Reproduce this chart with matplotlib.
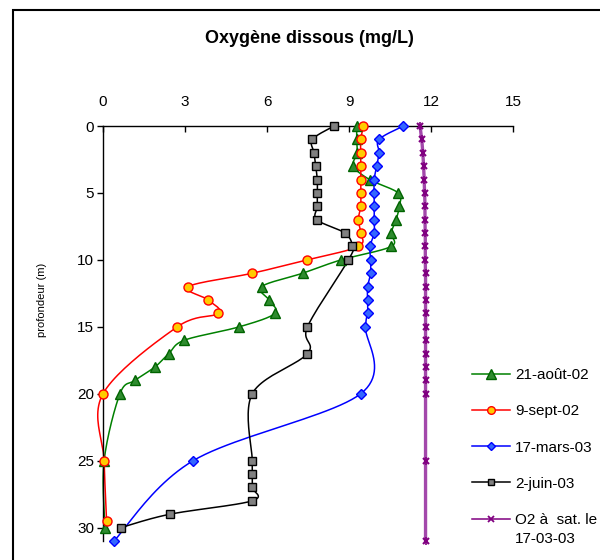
import numpy as np
import matplotlib
matplotlib.use("Agg")
import matplotlib.pyplot as plt
from matplotlib.patches import Rectangle

plt.rcParams['font.family'] = ['Liberation Sans', 'DejaVu Sans']

# -----------------------------
# Data (mg/L vs depth in m)
# -----------------------------
depth_aout = list(range(0, 21)) + [25, 30]
o2_aout = [9.28, 9.28, 9.3, 9.16, 9.75, 10.8, 10.84, 10.72, 10.54, 10.54, 8.71,
           7.3, 5.8, 6.07, 6.29, 4.99, 2.98, 2.41, 1.9, 1.17, 0.62, 0.04, 0.07]

depth_sept = list(range(0, 16)) + [20, 25, 29.5]
o2_sept = [9.53, 9.43, 9.43, 9.43, 9.43, 9.43, 9.43, 9.34, 9.43, 9.34, 7.48,
           5.46, 3.12, 3.85, 4.22, 2.72, 0.0, 0.04, 0.13]

depth_mars = list(range(0, 16)) + [20, 25, 31]
o2_mars = [10.99, 10.1, 10.1, 10.01, 9.92, 9.92, 9.92, 9.92, 9.92, 9.77, 9.79,
           9.79, 9.68, 9.68, 9.68, 9.6, 9.43, 3.3, 0.4]

depth_juin = list(range(0, 11)) + [15, 17, 20, 25, 26, 27, 28, 29, 30]
o2_juin = [8.45, 7.66, 7.72, 7.78, 7.84, 7.84, 7.84, 7.82, 8.85, 9.12, 8.98,
           7.48, 7.48, 5.46, 5.46, 5.46, 5.46, 5.46, 2.45, 0.66]

depth_sat = list(range(0, 21)) + [25, 31]
o2_sat = [11.6, 11.66, 11.7, 11.73, 11.75, 11.77, 11.78, 11.78, 11.79, 11.79, 11.79,
          11.8, 11.8, 11.8, 11.8, 11.8, 11.8, 11.8, 11.8, 11.8, 11.8, 11.8, 11.8]

labels = ['21-août-02', '9-sept-02', '17-mars-03', '2-juin-03', 'O2 à  sat. le']
label_cont = '17-03-03'


# -----------------------------
# Excel-like smoothed line (Catmull-Rom as Bezier)
# -----------------------------
def smooth(x, y, n=24):
    pts = np.column_stack([x, y]).astype(float)
    P = np.vstack([pts[0], pts, pts[-1]])
    t = np.linspace(0, 1, n)[:, None]
    out = []
    for i in range(len(pts) - 1):
        p0, p1, p2, p3 = P[i], P[i + 1], P[i + 2], P[i + 3]
        c1 = p1 + (p2 - p0) / 6
        c2 = p2 - (p3 - p1) / 6
        seg = ((1 - t) ** 3) * p1 + 3 * ((1 - t) ** 2) * t * c1 + 3 * (1 - t) * t ** 2 * c2 + t ** 3 * p2
        out.append(seg if i == 0 else seg[1:])
    s = np.vstack(out)
    return s[:, 0], s[:, 1]


fig = plt.figure(figsize=(6, 5.6), dpi=100)
ax = fig.add_axes([0.1717, 0.034, 0.6833, 0.741])

series = [
    (o2_aout, depth_aout, dict(color='#008000', marker='^', mfc='#2E8B2E', mec='#006400', ms=7.5)),
    (o2_sept, depth_sept, dict(color='#FF0000', marker='o', mfc='#FFCC00', mec='#FF0000', ms=6.5)),
    (o2_mars, depth_mars, dict(color='#0000FF', marker='D', mfc='#3366FF', mec='#0000FF', ms=5.5)),
    (o2_juin, depth_juin, dict(color='#000000', marker='s', mfc='#808080', mec='#000000', ms=6)),
]

handles = []
for (xv, yv, st), lab in zip(series, labels):
    sx, sy = smooth(xv, yv)
    ax.plot(sx, sy, color=st['color'], lw=1.1, clip_on=False, zorder=2)
    ax.plot(xv, yv, ls='none', marker=st['marker'], mfc=st['mfc'], mec=st['mec'],
            ms=st['ms'], mew=1, clip_on=False, zorder=3)
    h, = ax.plot([], [], color=st['color'], lw=1.1, marker=st['marker'], mfc=st['mfc'],
                 mec=st['mec'], ms=st['ms'] - 1, mew=1)
    handles.append(h)

sx, sy = smooth(o2_sat, depth_sat)
ax.plot(sx, sy, color='#A348AB', lw=2.4, clip_on=False, zorder=2)
ax.plot(o2_sat, depth_sat, ls='none', marker='x', color='#800080', ms=5, mew=1.5,
        clip_on=False, zorder=3)
ax.plot(o2_sat, depth_sat, ls='none', marker='|', color='#800080', ms=6, mew=1.2,
        clip_on=False, zorder=3)
h, = ax.plot([], [], color='#800080', lw=1.1, marker='x', ms=4, mew=1.3)
handles.append(h)

ax.set_xlim(0, 15)
ax.set_ylim(31, 0)
ax.set_xticks([0, 3, 6, 9, 12, 15])
ax.set_yticks([0, 5, 10, 15, 20, 25, 30])
ax.xaxis.tick_top()
ax.tick_params(axis='x', direction='in', length=4, width=1, pad=12, labelsize=11)
ax.tick_params(axis='y', direction='out', length=4, width=1, pad=2.5, labelsize=11)
ax.spines['right'].set_visible(False)
ax.spines['bottom'].set_visible(False)
ax.spines['top'].set_linewidth(1)
ax.spines['left'].set_linewidth(1)
ax.set_ylabel('profondeur (m)', fontsize=8)
ax.yaxis.set_label_coords(-0.137, 0.58)
ax.patch.set_visible(False)

fig.text(0.515, 0.932, 'Oxygène dissous (mg/L)', ha='center', va='center',
         fontsize=13, fontweight='bold')

leg = fig.legend(handles, labels, loc='upper left', bbox_to_anchor=(0.786, 0.343),
                 frameon=False, fontsize=11, handlelength=2.5, handletextpad=0.33,
                 labelspacing=1.46, borderaxespad=0, borderpad=0)

# second line of the last legend label, placed under the first line
fig.canvas.draw()
bb = leg.get_texts()[-1].get_window_extent().transformed(fig.transFigure.inverted())
fig.text(bb.x0, bb.y0 - 5 / 560, label_cont, ha='left', va='top', fontsize=11)

# chart outer border
fig.patches.append(Rectangle((13 / 600, -0.1), 1.2, 1 - 10 / 560 + 0.1,
                             transform=fig.transFigure, fill=False,
                             edgecolor='black', lw=1.5))

fig.savefig('out.png', dpi=100)
